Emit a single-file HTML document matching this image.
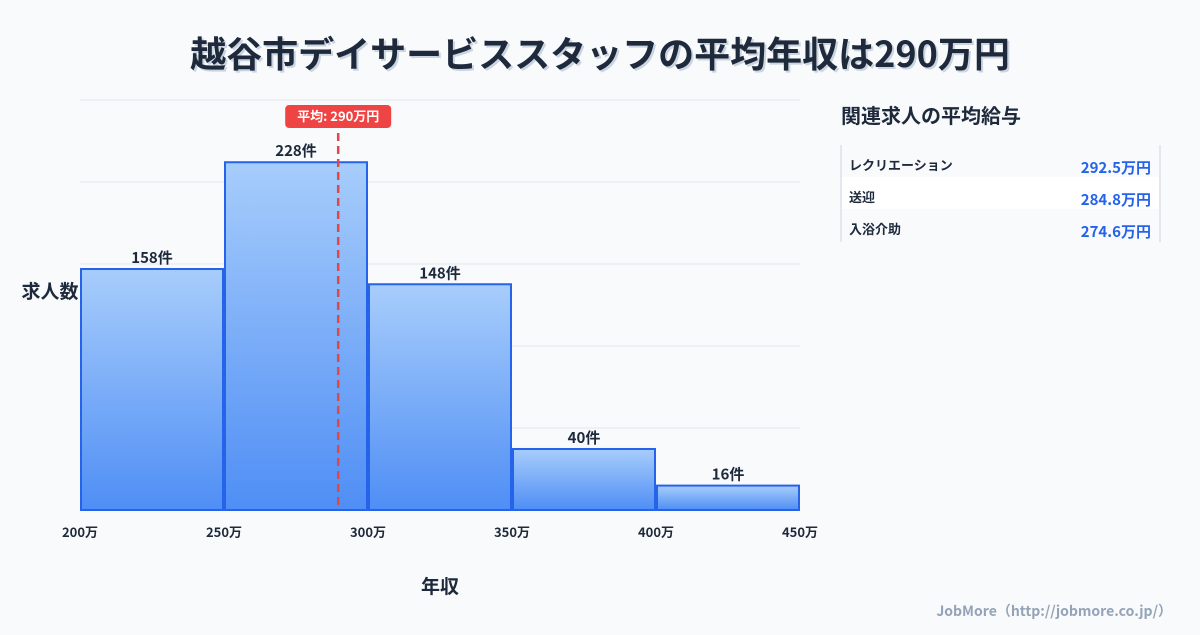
<!DOCTYPE html>
<html><head><meta charset="utf-8"><style>
body{margin:0;background:#f8fafc;width:1200px;height:630px;overflow:hidden;font-family:"Noto Sans CJK JP","Liberation Sans",sans-serif;}
svg text{font-family:"Noto Sans CJK JP","Liberation Sans",sans-serif;}
</style></head><body>
<svg width="1200" height="630">
<defs><linearGradient id="g" x1="0" y1="0" x2="0" y2="1"><stop offset="0" stop-color="#a7cdfb"/><stop offset="1" stop-color="#4f8ef5"/></linearGradient></defs>
<text x="600" y="67" text-anchor="middle" font-size="36" font-weight="bold" fill="#cbd5e1" transform="translate(2,2)">越谷市デイサービススタッフの平均年収は290万円</text>
<text x="600" y="67" text-anchor="middle" font-size="36" font-weight="bold" fill="#1e293b">越谷市デイサービススタッフの平均年収は290万円</text>
<g id="grid"></g><g id="bars"></g><g id="xt"></g>
<text x="50" y="298" text-anchor="middle" font-size="19" font-weight="bold" fill="#1e293b">求人数</text>
<text x="440" y="593" text-anchor="middle" font-size="19" font-weight="bold" fill="#1e293b">年収</text>
<g id="mean"></g>
<text x="841" y="123" font-size="20" font-weight="bold" fill="#1e293b">関連求人の平均給与</text>
<line x1="841" y1="145" x2="841" y2="242" stroke="#cbd5e1"/>
<line x1="1160" y1="145" x2="1160" y2="242" stroke="#cbd5e1"/>
<rect x="842" y="177" width="317" height="32" fill="#ffffff"/>
<g id="panel"></g>
<text x="1172" y="616" text-anchor="end" font-size="14" font-weight="bold" fill="#94a3b8">JobMore（http://jobmore.co.jp/）</text>
</svg>
<script>
const binStarts=[200,250,300,350,400];
const binEnds=[250,300,350,400,450];
const counts=[158,228,148,40,16];
const xTicks=[200,250,300,350,400,450];
const meanValue=290;
const jobNames=["レクリエーション","送迎","入浴介助"];
const jobSalaries=["292.5万円","284.8万円","274.6万円"];
const NS="http://www.w3.org/2000/svg";
function mk(t,a,p){const e=document.createElementNS(NS,t);for(const k in a)e.setAttribute(k,a[k]);p.appendChild(e);return e;}
const x=v=>80+(v-200)*2.88;
const yMax=268.8;
const y=v=>510-v/yMax*410;
const grid=document.getElementById('grid');
for(let i=0;i<=5;i++){const l=mk('line',{x1:80,x2:800,y1:100+i*82,y2:100+i*82,stroke:'#e2e8f0'},grid);

}
const bars=document.getElementById('bars');
counts.forEach((c,i)=>{const x0=x(binStarts[i])+1,x1=x(binEnds[i])-1;
const r=mk('rect',{x:x0,y:y(c),width:x1-x0,height:510-y(c),fill:'url(#g)',stroke:'#2563eb','stroke-width':2},bars);


const t=mk('text',{x:(x0+x1)/2,y:y(c)-6,'text-anchor':'middle','font-size':15,'font-weight':'bold',fill:'#1e293b'},bars);t.textContent=c+'件';

});
const xt=document.getElementById('xt');
xTicks.forEach(v=>{const t=mk('text',{x:x(v),y:537,'text-anchor':'middle','font-size':13,'font-weight':'bold',fill:'#1e293b'},xt);t.textContent=v+'万';

});
const mg=document.getElementById('mean');const mx=x(meanValue)-1;
const ml=mk('line',{x1:mx,x2:mx,y1:133,y2:510,stroke:'#e04848','stroke-width':2.5,'stroke-dasharray':'8,5'},mg);


const mb=mk('rect',{x:mx-53,y:105,width:106,height:23,rx:4,fill:'#ef4444'},mg);


const mt=mk('text',{x:mx,y:121,'text-anchor':'middle','font-size':13,'font-weight':'bold',fill:'#fff'},mg);mt.textContent='平均: '+meanValue+'万円';


const pn=document.getElementById('panel');
jobNames.forEach((n,i)=>{const yy=170+i*32;
const a=mk('text',{x:849,y:yy,'font-size':13,'font-weight':'bold',fill:'#1e293b'},pn);a.textContent=n;


const b=mk('text',{x:1151,y:yy+3,'text-anchor':'end','font-size':15,'font-weight':'bold',fill:'#2563eb'},pn);b.textContent=jobSalaries[i];

});
</script>
</body></html>
